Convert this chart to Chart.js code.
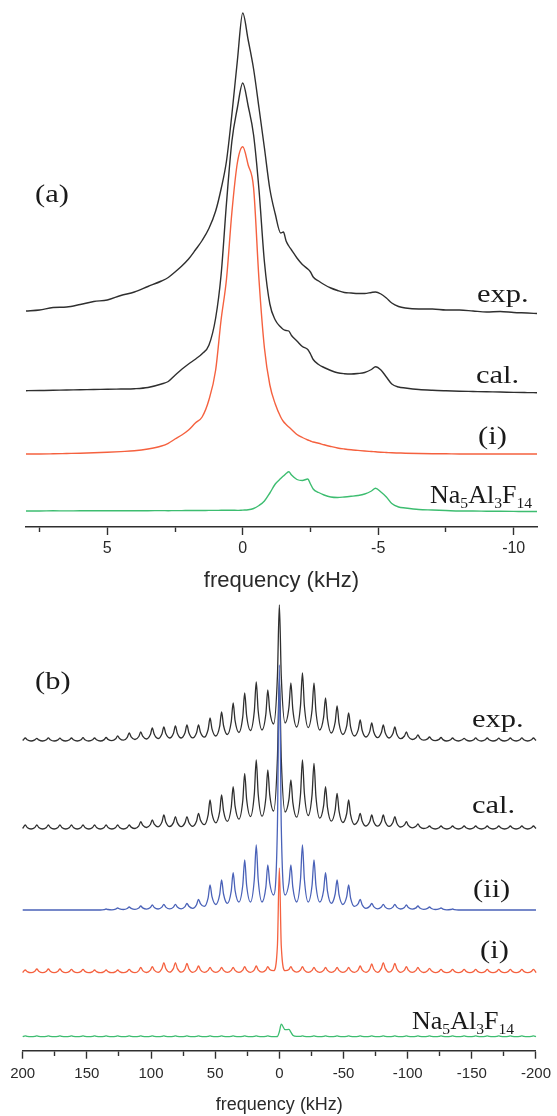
<!DOCTYPE html>
<html><head><meta charset="utf-8">
<script src="https://cdn.jsdelivr.net/npm/chart.js@4.4.1/dist/chart.umd.min.js"></script>
<style>
html,body{margin:0;padding:0;background:#fff;}
#wrap{position:relative;width:557px;height:1116px;overflow:hidden;background:#fff;}
canvas{position:absolute;left:0;}
.lbl{position:absolute;font-family:"Liberation Serif","Times New Roman",serif;color:#1a1a1a;line-height:1;white-space:nowrap;transform-origin:0 0;}
.lbl .s{font-size:0.6em;position:relative;top:0.32em;}
</style></head><body>
<div id="wrap">
<canvas id="ca" width="557" height="596" style="top:0;width:557px;height:596px"></canvas>
<canvas id="cb" width="557" height="520" style="top:596px;width:557px;height:520px"></canvas>
</div>
<script>
// ---------- Panel (a): static spectra, frequency in kHz ----------
const freqA = [8,7.5,7,6.5,6,5.5,5,4.5,4,3.5,3,2.75,2.5,2.25,2,1.75,1.5,1.25,1,0.8,0.6,0.4,0.2,0,-0.2,-0.4,-0.6,-0.8,-1,-1.2,-1.4,-1.5,-1.6,-1.7,-1.8,-2,-2.2,-2.4,-2.5,-2.6,-2.8,-3,-3.25,-3.5,-3.75,-4,-4.25,-4.5,-4.75,-4.9,-5.1,-5.3,-5.5,-5.75,-6,-6.5,-7,-7.5,-8,-8.5,-9,-9.5,-10,-10.5,-10.86];
const expA = [3,4,6.5,7,9.5,12.5,14,18.5,22,27.5,33,36.5,42,48,55,64,73.5,85.5,103,125,153,200,253,301,274,245,206,166,125,100,81,82,73,68,64,56,49.5,45,42,37,33,29.5,26,23.5,21.5,21,20.5,20.5,21.5,22,20,16,11,7.5,6,5,5,4,4,3,2,2.5,1.5,1,0.5];
const calA = [1.3,1.5,1.7,2,2.2,2.5,2.7,3,3.3,4.5,8,10.5,16.7,22.7,28,32.8,38.3,46.7,74,117,189,251,284,309,286,257,202,130,88,72,65,62.5,61.5,61,56.5,51,45.5,42.5,38,32.5,27.5,24.5,21.5,19.2,18.3,18,18.5,19.5,22.5,25.3,22,15,8,5,4,2.5,1.7,1.2,0.8,0.5,0.2,0,-0.4,-0.6,-0.7];
const iA = [0,0,0.2,0.5,0.8,1.2,1.7,2.4,3.2,5,8,10.7,15,19,24,31,37,54,84,134,175,242,291,307.3,289,266,174,106,69,50,37,32.5,29.5,27,24.5,19.5,16.5,14,13,12,10.7,9.2,7.5,6,5,4.2,3.6,3,2.5,2.2,1.8,1.5,1.2,1,0.8,0.5,0.3,0.2,0,0,0,0,0,0,0];
const naA = [0,0,0.2,0.1,0.2,0.2,0.3,0.2,0.3,0.3,0.4,0.3,0.4,0.4,0.5,0.5,0.5,0.6,0.6,0.7,0.7,0.8,0.6,0.9,1.2,2.5,5.5,10,18,27,32.5,35,37.5,39.3,36,31.5,30.5,32,27,22,18.5,16,14,13.5,14,14.7,15.5,17,20,22.7,19,14,7.5,4,3,1.5,1,0.5,0,0,-0.2,-0.3,-0.4,-0.5,-0.5];
const offsetA = [213, 135, 73, 16];           // exp, cal, (i), Na5Al3F14 vertical stacking
const tickLabelsA = [5, 0, -5, -10];

// ---------- Panel (b): MAS spectra, frequency in kHz ----------
const freqB = [200,199.5,
198,196.5,193.5,190.5, 189,187.5,184.5,181.5, 180,178.5,175.5,172.5, 171,169.5,166.5,163.5,
162,160.5,157.5,154.5, 153,151.5,148.5,145.5, 144,142.5,139.5,136.5, 135,133.5,130.5,127.5,
126,124.5,121.5,118.5, 117,115.5,112.5,109.5, 108,106.5,103.5,100.5, 99,97.5,94.5,91.5,
90,88.5,85.5,82.5, 81,79.5,76.5,73.5, 72,70.5,67.5,64.5, 63,61.5,58.5,55.5,
54,52.5,49.5,46.5, 45,43.5,40.5,37.5, 36,34.5,31.5,28.5, 27,25.5,22.5,19.5,
18,16.5,13.5,10.5, 9,7.5,4.5,1.5,
0,-1.5,-4.5,-7.5, -9,-10.5,-13.5,-16.5, -18,-19.5,-22.5,-25.5, -27,-28.5,-31.5,-34.5,
-36,-37.5,-40.5,-43.5, -45,-46.5,-49.5,-52.5, -54,-55.5,-58.5,-61.5, -63,-64.5,-67.5,-70.5,
-72,-73.5,-76.5,-79.5, -81,-82.5,-85.5,-88.5, -90,-91.5,-94.5,-97.5, -99,-100.5,-103.5,-106.5,
-108,-109.5,-112.5,-115.5, -117,-118.5,-121.5,-124.5, -126,-127.5,-130.5,-133.5, -135,-136.5,-139.5,-142.5,
-144,-145.5,-148.5,-151.5, -153,-154.5,-157.5,-160.5, -162,-163.5,-166.5,-169.5, -171,-172.5,-175.5,-178.5,
-180,-181.5,-184.5,-187.5, -189,-190.5,-193.5,-196.5,
-198,-199.5,-200];
const expB = [0.5,1.2,
3,1.2,0,1.2, 2.6,1.1,0,1.2, 3.2,1.3,0,1.1, 2.8,1.1,0,1.2, 3,1.2,0,1.2, 3.3,1.3,0,1.2, 3,1.2,0,1.4, 3.5,1.6,0.3,2.2,
5,2.5,0.8,3.7, 8,4.1,1.5,4.5, 9,4.8,2,6.4, 13,6.7,2.5,7.1, 14,7.4,3,7.8, 15,7.8,3,8.2, 16,8.3,3.2,8.3, 16,8.7,3.8,11.5,
23,12.2,5,14.6, 29,15.5,6.5,19.1, 38,20.3,8.5,24.3, 48,25.5,10.5,29.9, 59,30.2,11,27, 51,30.6,17,64.6,
136,65.2,18,34, 58,31.6,14,35.6, 68,35.3,13.5,31.3, 58,29.8,11,23.8, 43,22,8,18.8, 35,17.9,6.5,15.1, 28,14.2,5,11.4, 21,10.8,4,9.6,
18,9.2,3.3,8.4, 16,8.2,3,7.4, 14,7,2.3,5, 9,4.5,1.5,3.3, 6,2.9,0.8,2.1, 4,1.8,0.4,1.6, 3.5,1.4,0,1.2, 3,1.2,0,1.2,
2.7,1.1,0,1.2, 3.2,1.3,0,1.2, 3,1.2,0,1.1, 2.8,1.1,0,1.2, 3,1.2,0,1.2, 3.1,1.2,0,1.2,
3,1.2,0.5];
const calB = [0.5,1.6,
4,1.6,0,1.6, 4,1.6,0,1.6, 4,1.6,0,1.6, 4,1.6,0,1.6, 4,1.6,0,1.6, 4,1.6,0,1.6, 4,1.6,0,1.6, 4,1.6,0,1.6,
4,1.6,0,1.6, 4,1.9,0.5,3.2, 7.3,3.8,1.5,4.5, 9,4.9,2.2,6.9, 14,7.1,2.5,6.4, 12.3,6.4,2.4,6.4, 12.3,6.5,2.7,7.9, 15.7,8.9,4.3,14.2,
29,15.3,6.2,17.3, 34,18.2,7.6,21.5, 42.3,22.8,9.8,28.2, 55.7,29.8,12.5,35.1, 69,35.3,12.8,31.3, 59,34.4,18,70.8,
150,70.2,17,29.8, 49,26.7,11.8,34.7, 69,35.7,13.5,34.4, 65.7,32.8,10.8,23.4, 42.3,21.6,7.8,19, 35.7,18.2,6.5,15.5, 29,14.3,4.5,9, 15.7,8.1,3,7.4,
14,7.3,2.8,7.3, 14,7.2,2.6,6.5, 12.3,6.1,2,4.1, 7.3,3.6,1.2,2.7, 5,2.3,0.5,1.5, 3,1.2,0,1.2, 3,1.2,0,1.2, 3,1.2,0,1.2,
3,1.2,0,1.2, 3,1.2,0,1.2, 3,1.2,0,1.2, 3,1.2,0,1.2, 3,1.2,0,1.2, 3,1.2,0,1.2,
3,1.2,0.5];
const iiB = [0,0,
0,0,0,0, 0,0,0,0, 0,0,0,0, 0,0,0,0, 0,0,0,0, 0,0,0,0, 0,0,0,0.4, 1,0.5,0.2,0.9,
2,1.1,0.5,1.5, 3,1.6,0.7,2, 4,2.1,0.9,2.5, 5,2.6,1,2.9, 5.7,2.9,1.1,2.9, 5.7,3,1.2,3.4, 6.7,3.7,1.7,5.3, 10.7,6.4,3.6,12.2,
25,13.3,5.5,15.3, 30,16,6.7,18.9, 37.3,19.7,8,24.8, 50,24.8,8,30.8, 65,30.8,8,22.8, 45,27,15,84,
245,84,15,27, 45,22.8,8,30.8, 65,30.8,8,24.8, 50,24.8,8,19.7, 37.3,18.9,6.7,16, 30,15.3,5.5,13.3, 25,12.2,3.6,6.4, 10.7,5.3,1.7,3.7,
6.7,3.4,1.2,3, 5.7,2.9,1.1,2.9, 5.7,2.9,1,2.6, 5,2.5,0.9,2.1, 4,2,0.7,1.6, 3,1.5,0.5,1.1, 2,0.9,0.2,0.5, 1,0.4,0,0,
0,0,0,0, 0,0,0,0, 0,0,0,0, 0,0,0,0, 0,0,0,0, 0,0,0,0,
0,0,0];
const iB = [0,1.1,
2.7,1.1,0,1.5, 3.7,1.5,0,1.5, 3.7,1.5,0,1.5, 3.7,1.5,0,1.3, 3.3,1.3,0,1.3, 3.3,1.3,0,1.1, 2.7,1.1,0,1.1, 2.7,1.1,0,1.1,
2.7,1.1,0,1.3, 3.3,1.3,0,2.1, 5.3,2.1,0.2,2.5, 6,2.5,0.3,4.2, 10,4.2,0.5,4.3, 10,4.3,0.5,4, 9.3,4,0.4,2.9, 6.7,2.9,0.3,2.3,
5.3,2.3,0.3,2.3, 5.3,2.3,0.3,2.3, 5.3,2.3,0.3,2.6, 6,2.6,0.3,2.9, 6.7,2.9,0.5,2.7, 6,3.2,2,27,
104.7,27,2,3.2, 6,2.7,0.5,2.7, 6,2.6,0.3,2.3, 5.3,2.3,0.3,2.3, 5.3,2.3,0.3,2.3, 5.3,2.3,0.3,2.3, 5.3,2.3,0.3,2.9, 6.7,2.9,0.3,3.7,
8.7,3.7,0.4,4.3, 10,4.3,0.5,4, 9.3,4,0.4,2.6, 6,2.6,0.3,2.3, 5.3,2.3,0.2,1.9, 4.3,1.9,0,1.3, 3.3,1.3,0,1.3, 3.3,1.3,0,1.3,
3.3,1.3,0,1.3, 3.3,1.3,0,1.3, 3.3,1.3,0,1.3, 3.3,1.3,0,1.3, 3.3,1.3,0,1.3, 3.3,1.3,0,1.3,
3.3,1.3,0];
const naB = [0,0.3,
0.8,0.3,0,0.3, 0.8,0.3,0,0.3, 0.8,0.3,0,0.3, 0.8,0.3,0,0.3, 0.8,0.3,0,0.3, 0.8,0.3,0,0.3, 0.8,0.3,0,0.3, 0.8,0.3,0,0.3,
0.8,0.3,0,0.3, 0.8,0.3,0,0.3, 0.8,0.3,0,0.3, 0.8,0.3,0,0.3, 0.8,0.3,0,0.3, 0.8,0.3,0,0.3, 0.8,0.3,0,0.3, 0.8,0.3,0,0.3,
0.8,0.3,0,0.3, 0.8,0.3,0,0.3, 0.8,0.3,0,0.3, 0.8,0.3,0,0.3, 0.8,0.3,0,0.3, 0.8,0.3,0,0.2,
5,12.5,7,7.3, 4.5,1.5,0.3,0.3, 0.8,0.3,0,0.3, 0.8,0.3,0,0.3, 0.8,0.3,0,0.3, 0.8,0.3,0,0.3, 0.8,0.3,0,0.3, 0.8,0.3,0,0.3,
0.8,0.3,0,0.3, 0.8,0.3,0,0.3, 0.8,0.3,0,0.3, 0.8,0.3,0,0.3, 0.8,0.3,0,0.3, 0.8,0.3,0,0.3, 0.8,0.3,0,0.3, 0.8,0.3,0,0.3,
0.8,0.3,0,0.3, 0.8,0.3,0,0.3, 0.8,0.3,0,0.3, 0.8,0.3,0,0.3, 0.8,0.3,0,0.3, 0.8,0.3,0,0.3,
0.8,0.3,0];
const offsetB = [309.7, 221.7, 140.7, 78, 14];   // exp, cal, (ii), (i), Na5Al3F14
const tickLabelsB = [200, 150, 100, 50, 0, -50, -100, -150, -200];

// ---------- drawing ----------
const COL = {black:'#2f2f2f', red:'#f5613f', blue:'#4a62b8', green:'#3dbd70', axis:'#2f2f2f'};
Chart.defaults.font.family = '"Liberation Sans", Arial, sans-serif';

function pts(freq, vals, off) { return freq.map((f, i) => ({x: f, y: vals[i] + off})); }
function ds(data, color, w) {
  return {data, borderColor: color, borderWidth: w, pointRadius: 0, fill: false,
          cubicInterpolationMode: 'monotone', clip: false};
}
function xAxis(min, max, step, labels, fontSize, pad, axisH, titleSize, titlePadB) {
  return {
    type: 'linear', reverse: true, min, max,
    afterFit: s => { s.height = axisH; },
    border: {display: true, color: COL.axis, width: 1.5},
    grid: {drawOnChartArea: false, drawTicks: true, tickLength: 8, tickWidth: 1.4, tickColor: COL.axis,
           tickBorderDash: c => (c.tick && labels.indexOf(c.tick.value) < 0) ? [4.5, 40] : []},
    ticks: {stepSize: step, includeBounds: false, autoSkip: false, maxRotation: 0, maxTicksLimit: 200,
            padding: pad, color: '#2a2a2a', font: {size: fontSize},
            callback: v => labels.indexOf(v) >= 0 ? String(v) : ''},
    title: {display: true, text: 'frequency (kHz)', color: '#2a2a2a', font: {size: titleSize},
            padding: {top: 0, bottom: titlePadB}}
  };
}
function makeChart(id, datasets, x, yMax, padding) {
  return new Chart(document.getElementById(id), {
    type: 'line',
    data: {datasets},
    options: {
      responsive: false, animation: false, devicePixelRatio: 1,
      layout: {padding},
      plugins: {legend: {display: false}, tooltip: {enabled: false}},
      events: [],
      scales: {x, y: {display: false, min: 0, max: yMax}}
    }
  });
}

makeChart('ca', [
  ds(pts(freqA, expA, offsetA[0]), COL.black, 1.4),
  ds(pts(freqA, calA, offsetA[1]), COL.black, 1.4),
  ds(pts(freqA, iA, offsetA[2]), COL.red, 1.4),
  ds(pts(freqA, naA, offsetA[3]), COL.green, 1.4)
], xAxis(-10.86, 8, 2.5, tickLabelsA, 16, 4, 69, 22, 2), 522, {left: 26, right: 20, top: 5, bottom: 0});

makeChart('cb', [
  ds(pts(freqB, iiB, offsetB[2]), COL.blue, 1.3),
  ds(pts(freqB, expB, offsetB[0]), COL.black, 1.3),
  ds(pts(freqB, calB, offsetB[1]), COL.black, 1.3),
  ds(pts(freqB, iB, offsetB[3]), COL.red, 1.3),
  ds(pts(freqB, naB, offsetB[4]), COL.green, 1.3)
], xAxis(-200, 200, 25, tickLabelsB, 15, 6, 65.3, 18, 0), 450.7, {left: 22.7, right: 16.7, top: 4, bottom: 0});

// ---------- trace labels ----------
const NA = 'Na<span class="s">5</span>Al<span class="s">3</span>F<span class="s">14</span>';
const labels = [
  {t:'(a)', x:35, b:201.5, s:25, k:1.22},
  {t:'exp.', x:477, b:302, s:25, k:1.22},
  {t:'cal.', x:476, b:383, s:25, k:1.22},
  {t:'(i)', x:478, b:444, s:25, k:1.22},
  {t:NA, x:430, b:503.5, s:26, k:1},
  {t:'(b)', x:35, b:689, s:25, k:1.22},
  {t:'exp.', x:471.7, b:726.7, s:25, k:1.22},
  {t:'cal.', x:471.7, b:813.3, s:25, k:1.22},
  {t:'(ii)', x:472.5, b:897, s:25, k:1.22},
  {t:'(i)', x:479.6, b:957.5, s:25, k:1.22},
  {t:NA, x:412, b:1030, s:26, k:1}
];
const wrap = document.getElementById('wrap');
labels.forEach(L => {
  const d = document.createElement('div');
  d.className = 'lbl';
  d.innerHTML = L.t;
  d.style.fontSize = L.s + 'px';
  d.style.left = L.x + 'px';
  d.style.top = (L.b - 0.8375 * L.s) + 'px';
  if (L.k !== 1) d.style.transform = 'scaleX(' + L.k + ')';
  wrap.appendChild(d);
});
</script>
</body></html>
